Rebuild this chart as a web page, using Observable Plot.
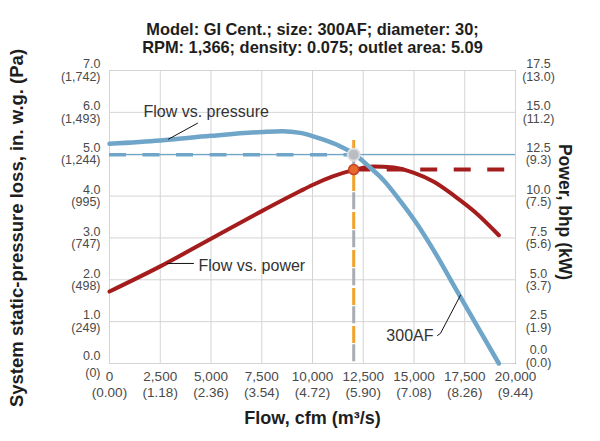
<!DOCTYPE html>
<html><head><meta charset="utf-8">
<script src="https://cdn.jsdelivr.net/npm/d3@7"></script>
<script src="https://cdn.jsdelivr.net/npm/@observablehq/plot@0.6"></script>
<style>
body{margin:0;background:#fff;}
#chart svg{font-family:"Liberation Sans",Arial,Helvetica,sans-serif;}
</style></head><body><div id="chart"></div>
<script>
// ---- data ----
const titleLines = ["Model: GI Cent.; size: 300AF; diameter: 30;", "RPM: 1,366; density: 0.075; outlet area: 5.09"];
const xTitle = "Flow, cfm (m³/s)";
const yTitle = "System static-pressure loss, in. w.g. (Pa)";
const y2Title = "Power, bhp (kW)";
const xTicks = [0, 2500, 5000, 7500, 10000, 12500, 15000, 17500, 20000];
const xTickLabels = ["0\n(0.00)", "2,500\n(1.18)", "5,000\n(2.36)", "7,500\n(3.54)", "10,000\n(4.72)", "12,500\n(5.90)", "15,000\n(7.08)", "17,500\n(8.26)", "20,000\n(9.44)"];
const yTicks = [0, 1, 2, 3, 4, 5, 6, 7];
const yTickLabels = ["0.0\n(0)", "1.0\n(249)", "2.0\n(498)", "3.0\n(747)", "4.0\n(995)", "5.0\n(1,244)", "6.0\n(1,493)", "7.0\n(1,742)"];
const powerTicks = [0, 2.5, 5, 7.5, 10, 12.5, 15, 17.5];
const powerTickLabels = ["0.0\n(0.0)", "2.5\n(1.9)", "5.0\n(3.7)", "7.5\n(5.6)", "10.0\n(7.5)", "12.5\n(9.3)", "15.0\n(11.2)", "17.5\n(13.0)"];
const powerMax = 17.5, pressureMax = 7;

const pressureFlow   = [0, 2500, 5000, 7500, 8500, 9400, 10400, 11400, 12100, 12700, 13500, 14300, 15100, 16000, 17000, 18000, 19180];
const pressureValues = [5.25, 5.33, 5.44, 5.53, 5.55, 5.51, 5.37, 5.18, 4.99, 4.74, 4.38, 3.90, 3.37, 2.68, 1.83, 0.99, 0.0];

const powerFlow   = [0, 2500, 5000, 7500, 9400, 10000, 11000, 12000, 13000, 14000, 15000, 16000, 17000, 18000, 19180];
const powerValues = [4.3, 5.8, 7.45, 9.1, 10.3, 10.66, 11.17, 11.55, 11.77, 11.70, 11.38, 10.84, 10.0, 9.05, 7.66];

const opFlow = 12030, opPressure = 4.99, opPower = 11.58, opTop = 5.33, powerDashEnd = 19500;

const labelTexts = ["Flow vs. pressure", "Flow vs. power", "300AF"];
const labelFlow  = [1675, 4384, 15960];
const labelValue = [6.0, 2.34, 0.65];
const leaderPressure = [[2906, 5.36], [4335, 5.74]];
const leaderPower    = [[2857, 2.39], [4138, 2.39]];
const leader300      = [[16160, 0.67], [16305, 0.72], [17290, 1.63]];

// ---- build ----
const k = pressureMax / powerMax;
const pressureData = pressureFlow.map((f, i) => ({flow: f, y: pressureValues[i]}));
const powerData = powerFlow.map((f, i) => ({flow: f, y: powerValues[i] * k}));
const labels = labelTexts.map((t, i) => ({text: t, flow: labelFlow[i], y: labelValue[i]}));
const blue = "#6ea5c8", red = "#a51c1c", orange = "#f0a22a", grey = "#a9acb2";
const tickColor = "#4a4a4a", titleColor = "#1e1e1e";
const fmt = (ticks, labs) => d => labs[ticks.indexOf(d)];
const yAxisOpts = {tickSize: 0, tickPadding: 9, lineHeight: 1.0, label: null, fill: tickColor, fontSize: 12.5};
const y2AxisOpts = {anchor: "right", tickSize: 0, tickPadding: 23, textAnchor: "middle", lineHeight: 1.0, label: null, fill: tickColor, fontSize: 12.5};

const chart = Plot.plot({
  width: 600, height: 441,
  marginLeft: 109, marginRight: 85, marginTop: 70, marginBottom: 78,
  style: {fontFamily: '"Liberation Sans", Arial, sans-serif', fontSize: "12.5px", background: "#fff", overflow: "visible"},
  x: {domain: [0, 20000]},
  y: {domain: [0, pressureMax]},
  marks: [
    Plot.frame({fill: "#fff", stroke: "#a8a8a8"}),
    Plot.gridX({ticks: xTicks, stroke: "#d4d4d4", strokeOpacity: 1}),
    Plot.gridY({ticks: yTicks, stroke: "#d4d4d4", strokeOpacity: 1}),
    Plot.axisX({ticks: xTicks, tickFormat: fmt(xTicks, xTickLabels), tickSize: 0, tickPadding: 6, lineHeight: 1.2, label: null, fill: tickColor, fontSize: 13.5}),
    Plot.axisY({...yAxisOpts, ticks: yTicks.slice(1), tickFormat: fmt(yTicks, yTickLabels)}),
    Plot.axisY({...yAxisOpts, ticks: [0], tickFormat: fmt(yTicks, yTickLabels), lineHeight: 1.35}),
    Plot.axisY({...y2AxisOpts, ticks: powerTicks.slice(1).map(v => v * k), tickFormat: d => powerTickLabels[powerTicks.findIndex(v => Math.abs(v * k - d) < 1e-9)]}),
    Plot.axisY({...y2AxisOpts, ticks: [0], tickFormat: () => powerTickLabels[0], dy: -7}),
    // reference lines
    Plot.ruleY([opPressure], {stroke: blue, strokeWidth: 1.3}),
    Plot.ruleY([opPressure], {x1: 0, x2: opFlow, stroke: blue, strokeWidth: 3.5, strokeDasharray: "17,16.5"}),
    Plot.ruleY([opPower * k], {x1: opFlow, x2: powerDashEnd, stroke: red, strokeWidth: 4, strokeDasharray: "17,16.5"}),
    Plot.ruleX([opFlow], {y1: opTop, y2: 0, stroke: orange, strokeWidth: 3, strokeDasharray: "17,21", strokeDashoffset: 4}),
    Plot.ruleX([opFlow], {y1: opPressure, y2: 0, stroke: grey, strokeWidth: 3, strokeDasharray: "17,21"}),
    // curves
    Plot.line(powerData, {x: "flow", y: "y", stroke: red, strokeWidth: 4, curve: "monotone-x"}),
    Plot.line(pressureData, {x: "flow", y: "y", stroke: blue, strokeWidth: 4.5, curve: "monotone-x"}),
    // operating points
    Plot.dot([{flow: opFlow, y: opPressure}], {x: "flow", y: "y", r: 6, fill: "#b9bcc2", stroke: "#dcdee2", strokeWidth: 2}),
    Plot.dot([{flow: opFlow, y: opPower * k}], {x: "flow", y: "y", r: 5, fill: "#e8692c", stroke: "#c4402a", strokeWidth: 1.5}),
    // annotations
    Plot.line(leaderPressure, {stroke: "#111", strokeWidth: 1}),
    Plot.line(leaderPower, {stroke: "#111", strokeWidth: 1}),
    Plot.line(leader300, {stroke: "#111", strokeWidth: 1}),
    Plot.text(labels.slice(0, 2), {x: "flow", y: "y", text: "text", textAnchor: "start", fontSize: 16, fill: "#333"}),
    Plot.text(labels.slice(2), {x: "flow", y: "y", text: "text", textAnchor: "end", fontSize: 16, fill: "#333"}),
    // titles
    Plot.text([titleLines[0]], {frameAnchor: "top", lineAnchor: "middle", textAnchor: "middle", dy: -41, fontSize: 16.4, fontWeight: "bold", fill: titleColor}),
    Plot.text([titleLines[1]], {frameAnchor: "top", lineAnchor: "middle", textAnchor: "middle", dy: -23, fontSize: 16.4, fontWeight: "bold", fill: titleColor}),
    Plot.text([yTitle], {frameAnchor: "left", lineAnchor: "middle", textAnchor: "middle", dx: -92, dy: 11, rotate: -90, fontSize: 18.5, fontWeight: "bold", fill: titleColor}),
    Plot.text([y2Title], {frameAnchor: "right", lineAnchor: "middle", textAnchor: "middle", dx: 49, dy: -5, rotate: 90, fontSize: 17.5, fontWeight: "bold", fill: titleColor}),
    Plot.text([xTitle], {frameAnchor: "bottom", lineAnchor: "middle", textAnchor: "middle", dy: 55, fontSize: 18, fontWeight: "bold", fill: titleColor})
  ]
});
const fr = chart.querySelector('g[aria-label="frame"] rect') || chart.querySelector('g[aria-label="frame"]');
if (fr) fr.style.filter = "drop-shadow(4px 3px 4px rgba(0,0,0,0.35))";
document.getElementById("chart").appendChild(chart);
</script></body></html>
